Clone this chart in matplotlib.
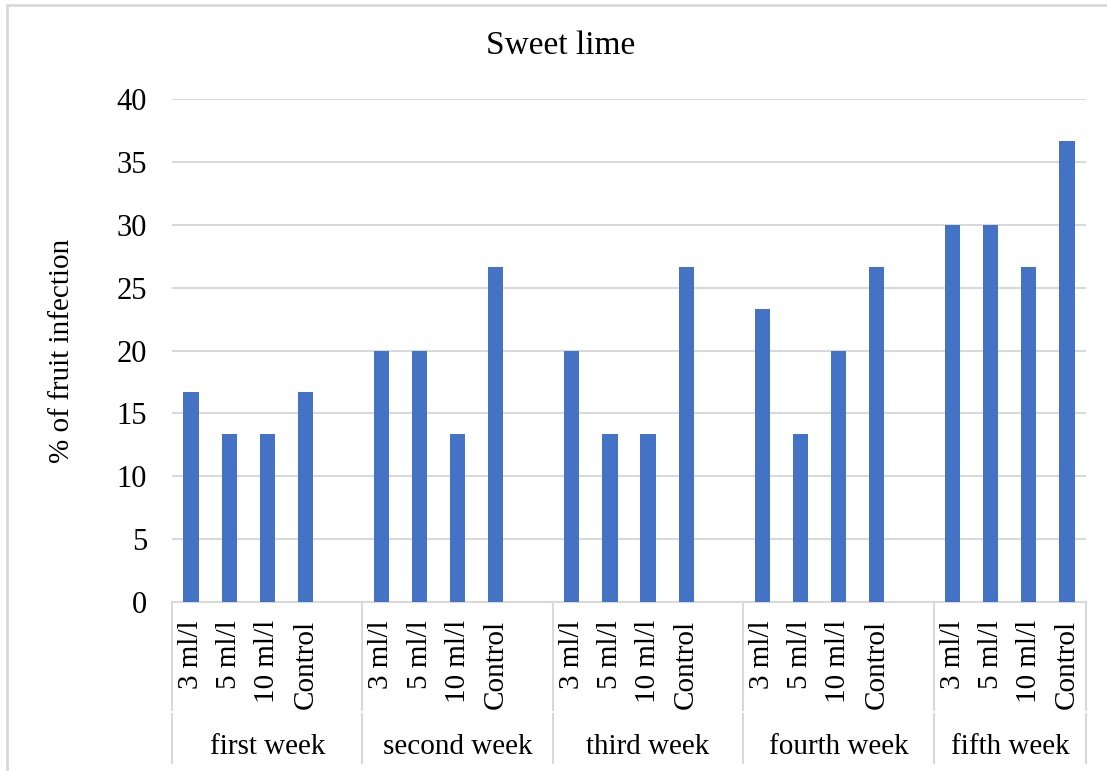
import numpy as np
import matplotlib.pyplot as plt
import matplotlib.transforms as mtransforms

# sweet lime infection over five weeks, four treatments per week
weeks = ['first week', 'second week', 'third week', 'fourth week', 'fifth week']
treatments = ['3 ml/l', '5 ml/l', '10 ml/l', 'Control']
infection = [
    [16.67, 13.33, 13.33, 16.67],
    [20.0, 20.0, 13.33, 26.67],
    [20.0, 13.33, 13.33, 26.67],
    [23.33, 13.33, 20.0, 26.67],
    [30.0, 30.0, 26.67, 36.67],
]

plt.rc('font', family=['Liberation Serif', 'DejaVu Serif'])
ftsize = 21
bar_color = '#4472C4'
grid_color = '#D9D9D9'

W, H = 1107, 771
fig = plt.figure(figsize=(W / 100, H / 100), dpi=100)
ax = fig.add_axes([172 / W, 169 / H, (1086 - 172) / W, (602 - 99) / H])

# each week takes five slots (four bars and one blank), the last week four
slot_pos = []
bounds = [0]
labels = []
values = []
s = 0
for i, wk in enumerate(weeks):
    for j, tr in enumerate(treatments):
        slot_pos.append(s + j + 0.5)
        labels.append(tr)
        values.append(infection[i][j])
    s += 4 if i == len(weeks) - 1 else 5
    bounds.append(s)
n_slots = bounds[-1]

ax.bar(slot_pos, values, width=0.4, color=bar_color, zorder=3)

ax.set_xlim(0, n_slots)
ax.set_ylim(0, 40)
ax.set_yticks(np.arange(0, 41, 5))
ax.yaxis.grid(True, color=grid_color, linewidth=1.5, zorder=0)
ax.tick_params(axis='y', length=0, pad=18, labelsize=ftsize + 1)
ax.tick_params(axis='x', length=0, bottom=False, labelbottom=False)
for side in ['top', 'right', 'left']:
    ax.spines[side].set_visible(False)
ax.spines['bottom'].set_color(grid_color)
ax.spines['bottom'].set_linewidth(1.5)

trans = mtransforms.blended_transform_factory(ax.transData, ax.transAxes)
px = 1.0 / (602 - 99)

# rotated treatment labels under each bar
for x, lab in zip(slot_pos, labels):
    ax.text(x, -18 * px, lab, transform=trans, rotation=90,
            ha='center', va='top', fontsize=ftsize)

# week labels and group separators
for i, wk in enumerate(weeks):
    ax.text((bounds[i] + bounds[i + 1]) / 2, -145 * px, wk, transform=trans,
            ha='center', va='center', fontsize=ftsize)
for b in bounds:
    ax.plot([b, b], [0, -108 * px], transform=trans, color=grid_color,
            linewidth=1.5, clip_on=False)
    ax.plot([b, b], [-112 * px, -161 * px], transform=trans, color=grid_color,
            linewidth=1.5, clip_on=False)

ax.set_ylabel('% of fruit infection', fontsize=ftsize, labelpad=30)
fig.text(561 / W, 1 - 46 / H, 'Sweet lime', ha='center', va='center',
         fontsize=24)

# chart border
fig.patches.append(plt.Rectangle((7 / W, -0.1), 1.2, 1 - 5 / H + 0.1,
                                 transform=fig.transFigure, fill=False,
                                 edgecolor=grid_color, linewidth=2))

fig.savefig('out.png', dpi=100)
